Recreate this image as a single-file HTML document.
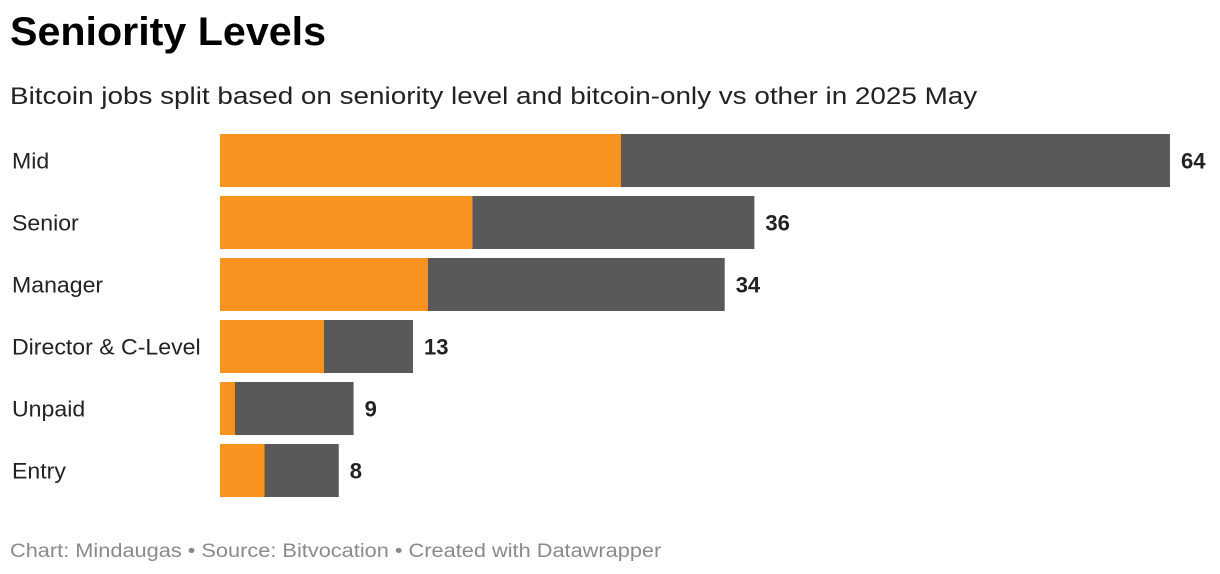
<!DOCTYPE html>
<html><head><meta charset="utf-8"><style>
body{margin:0;width:1220px;height:574px;background:#fff;font-family:"Liberation Sans",Arial,sans-serif;position:relative;overflow:hidden}
#title{position:absolute;left:10px;top:10px;font-size:40px;font-weight:bold;color:#000;margin:0;transform:scaleX(1.03);transform-origin:0 0}
#sub{position:absolute;left:10px;top:83px;font-size:24px;color:#222;white-space:nowrap;transform:scaleX(1.16);transform-origin:0 0}
#foot{position:absolute;left:10px;top:541px;font-size:19px;color:#8a8a8a;white-space:nowrap;transform:scaleX(1.145);transform-origin:0 0}
svg{position:absolute;left:0;top:0}
</style></head><body>
<h1 id="title">Seniority Levels</h1>
<div id="sub">Bitcoin jobs split based on seniority level and bitcoin-only vs other in 2025 May</div>
<div id="foot">Chart: Mindaugas • Source: Bitvocation • Created with Datawrapper</div>
<svg id="chart" width="1220" height="574"></svg>
<script>
const categories=["Mid","Senior","Manager","Director & C-Level","Unpaid","Entry"];
const bitcoinOnly=[27,17,14,7,1,3];
const totals=[64,36,34,13,9,8];
const svg=document.getElementById('chart');
const NS='http://www.w3.org/2000/svg';
const x0=220,x1=1170,maxV=64;
function xs(v){return x0+(x1-x0)*v/maxV;}
function ys(i){return 134+i*62;}
const bh=53;
categories.forEach((c,i)=>{
  const y=ys(i);
  const lab=document.createElementNS(NS,'text');
  
  
  lab.setAttribute('x',12);lab.setAttribute('y',y+bh/2+8);
  lab.setAttribute('font-size','22');lab.setAttribute('fill','#222');
  lab.setAttribute('textLength',Math.round(c.length*0)+0||null);
  lab.removeAttribute('textLength');
  lab.setAttribute('transform','translate(12,0) scale(1.05,1) translate(-12,0)');
  lab.textContent=c;svg.appendChild(lab);
  const r1=document.createElementNS(NS,'rect');
  
  
  r1.setAttribute('x',x0);r1.setAttribute('y',y);r1.setAttribute('width',xs(bitcoinOnly[i])-x0);r1.setAttribute('height',bh);r1.setAttribute('fill','#f7931e');
  svg.appendChild(r1);
  const r2=document.createElementNS(NS,'rect');
  
  
  r2.setAttribute('x',xs(bitcoinOnly[i]));r2.setAttribute('y',y);r2.setAttribute('width',xs(totals[i])-xs(bitcoinOnly[i]));r2.setAttribute('height',bh);r2.setAttribute('fill','#595959');
  svg.appendChild(r2);
  const v=document.createElementNS(NS,'text');
  
  
  v.setAttribute('x',xs(totals[i])+11);v.setAttribute('y',y+bh/2+8);
  v.setAttribute('font-size','22');v.setAttribute('font-weight','bold');v.setAttribute('fill','#222');
  v.textContent=totals[i];svg.appendChild(v);
});
</script>
</body></html>
